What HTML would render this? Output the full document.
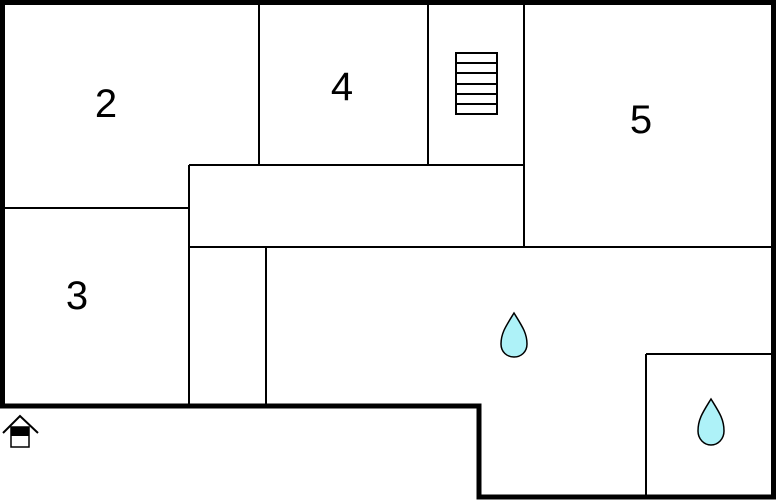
<!DOCTYPE html>
<html><head><style>body{margin:0;background:#fff}svg{display:block}</style></head><body>
<svg width="776" height="500" viewBox="0 0 776 500" xmlns="http://www.w3.org/2000/svg">
<rect width="776" height="500" fill="#fff"/>
<g stroke="#000" stroke-width="2" fill="none">
<line x1="259" y1="2" x2="259" y2="165"/>
<line x1="428" y1="2" x2="428" y2="165"/>
<line x1="524" y1="2" x2="524" y2="247"/>
<line x1="189" y1="165" x2="524" y2="165"/>
<line x1="2" y1="208" x2="189" y2="208"/>
<line x1="189" y1="165" x2="189" y2="406"/>
<line x1="189" y1="247" x2="774" y2="247"/>
<line x1="266" y1="247" x2="266" y2="406"/>
<line x1="646" y1="354" x2="646" y2="497"/>
<line x1="646" y1="354" x2="774" y2="354"/>
<rect x="456" y="53" width="41" height="61"/>
<line x1="456" y1="63" x2="497" y2="63"/>
<line x1="456" y1="73" x2="497" y2="73"/>
<line x1="456" y1="84" x2="497" y2="84"/>
<line x1="456" y1="94" x2="497" y2="94"/>
<line x1="456" y1="104" x2="497" y2="104"/>
</g>
<path d="M2.5 2.5 H773.5 V497 H479 V406 H2.5 Z" stroke="#000" stroke-width="5" fill="none"/>
<path d="M514 313 C506 326 501 333 501 344 C501 352 507 357 514 357 C521 357 527 352 527 344 C527 333 522 326 514 313 Z" fill="#aef2f8" stroke="#000" stroke-width="1.5"/>
<path d="M711 399 C703 412 698 419 698 431 C698 439 704 445 711 445 C718 445 724 439 724 431 C724 419 719 412 711 399 Z" fill="#aef2f8" stroke="#000" stroke-width="1.5"/>
<path d="M3 433 L20 416 L38 433" stroke="#000" stroke-width="2" fill="none"/>
<rect x="11" y="427" width="18" height="20" fill="#fff" stroke="#000" stroke-width="1.5"/>
<rect x="11" y="427" width="18" height="9" fill="#000"/>
<g font-family="Liberation Sans, sans-serif" font-size="40" text-anchor="middle" fill="#000">
<text x="106" y="117">2</text>
<text x="342" y="100">4</text>
<text x="641" y="133">5</text>
<text x="77" y="309">3</text>
</g>
</svg>
</body></html>
